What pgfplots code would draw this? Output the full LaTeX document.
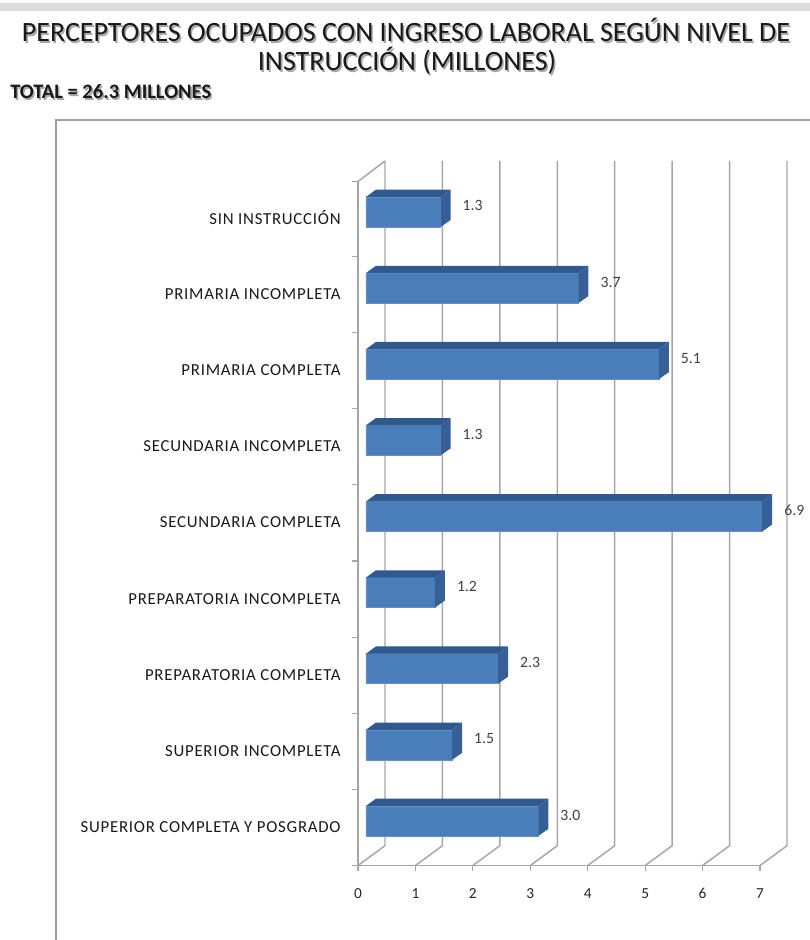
\documentclass[border=0pt]{standalone}
\usepackage{pgfplots}
\usepackage{pgfplotstable}
\usepackage{fontspec}
\setmainfont{Carlito}
\pgfplotsset{compat=1.18}

\definecolor{barfront}{HTML}{4A7EBB}
\definecolor{bartop}{HTML}{30598F}
\definecolor{barside}{HTML}{355F96}
\definecolor{wallline}{HTML}{A6A6A6}
\definecolor{valtext}{HTML}{404040}

% values, pos 0 is the lowest bar
\pgfplotstableread{
pos val
8 1.3
7 3.7
6 5.1
5 1.3
4 6.9
3 1.2
2 2.3
1 1.5
0 3.0
}\niveles

% top and side face of one bar: pos, value
\newcommand{\barfaces}[2]{%
  \pgfmathsetmacro{\xa}{#2+0.174}%
  \pgfmathsetmacro{\xb}{0.174}%
  \pgfmathsetmacro{\ya}{#1+0.197}%
  \pgfmathsetmacro{\yb}{#1+0.293}%
  \pgfmathsetmacro{\yc}{#1-0.105}%
  \pgfmathsetmacro{\yd}{#1-0.197}%
  \edef\temp{\noexpand\addplot[fill=bartop,draw=none] coordinates {(0,\ya) (#2,\ya) (\xa,\yb) (\xb,\yb)} -- cycle;
  \noexpand\addplot[fill=barside,draw=none] coordinates {(#2,\ya) (\xa,\yb) (\xa,\yc) (#2,\yd)} -- cycle;}%
  \temp}

% one wall line: front bottom, back bottom, back top
\newcommand{\wall}[1]{%
  \pgfmathsetmacro{\xa}{#1+0.47}%
  \edef\temp{\noexpand\addplot[wallline,line width=1.1pt] coordinates {(#1,-0.585) (\xa,-0.325) (\xa,8.67)};}%
  \temp}

\newcommand{\softtext}[4]{% x, y, options, text
  \node[text=black!35,#3] at (#1+1.6,#2+1.6) {#4};
  \node[text=black!90,#3] at (#1,#2) {#4};}

\begin{document}
\begin{tikzpicture}
\path[use as bounding box] (0,0) rectangle (607.5pt,705pt);
\begin{scope}[x=0.75pt,y=-0.75pt,shift={(0pt,705pt)}]
\fill[black!14] (0,3) rectangle (810,11);
\draw[black!38,line width=1.1pt] (56,940) -- (56,120) -- (810,120);
\softtext{406}{30}{font=\fontsize{21}{24}\selectfont}{PERCEPTORES OCUPADOS CON INGRESO LABORAL SEGÚN NIVEL DE}
\softtext{407}{61}{font=\fontsize{21}{24}\selectfont}{INSTRUCCIÓN (MILLONES)}
\softtext{10}{92}{anchor=west,inner sep=0pt,font=\fontsize{15.4}{18}\selectfont\bfseries}{TOTAL = 26.3 MILLONES}
\end{scope}
\begin{axis}[
    at={(268.5pt,55.875pt)},
    anchor=south west,
    scale only axis,
    width=301.5pt,
    height=513pt,
    xmin=-0.139, xmax=6.861,
    ymin=-0.585, ymax=8.4,
    clip=false,
    axis lines=left,
    axis line style={-,wallline,line width=1.1pt},
    tick align=outside,
    tick style={wallline,line width=0.8pt},
    major tick length=4.5pt,
    minor tick length=4.5pt,
    xtick={-0.139,0.861,1.861,2.861,3.861,4.861,5.861,6.861},
    xticklabels={0,1,2,3,4,5,6,7},
    xticklabel style={yshift=-9pt,font=\fontsize{11.5}{12}\selectfont,text=black!85},
    ytick={-0.08,0.92,1.92,2.92,3.92,4.92,5.92,6.92,7.92},
    yticklabels={SUPERIOR COMPLETA Y POSGRADO,SUPERIOR INCOMPLETA,PREPARATORIA COMPLETA,PREPARATORIA INCOMPLETA,SECUNDARIA COMPLETA,SECUNDARIA INCOMPLETA,PRIMARIA COMPLETA,PRIMARIA INCOMPLETA,SIN INSTRUCCIÓN},
    yticklabel style={font=\fontsize{12.6}{14}\selectfont\addfontfeature{LetterSpace=4.5},text=black!90,xshift=-5pt},
    major y tick style={draw=none},
    minor ytick={-0.585,0.415,1.415,2.415,3.415,4.415,5.415,6.415,7.415,8.4},
    /pgf/number format/assume math mode=true,
    every node near coord/.append style={font=\fontsize{11.8}{12}\selectfont,text=valtext,xshift=13pt,yshift=4.5pt},
    nodes near coords style={/pgf/number format/.cd,fixed,fixed zerofill,precision=1},
]
\wall{-0.139}
\wall{0.861}
\wall{1.861}
\wall{2.861}
\wall{3.861}
\wall{4.861}
\wall{5.861}
\wall{6.861}
\addplot[wallline,line width=1.1pt] coordinates {(0.331,8.67) (-0.139,8.4)};
\addplot[xbar,bar width=22.5pt,fill=barfront,draw=barfront!85!white,line width=0.5pt,
    nodes near coords,point meta=x] table[x=val,y=pos] {\niveles};
\barfaces{8}{1.3}
\barfaces{7}{3.7}
\barfaces{6}{5.1}
\barfaces{5}{1.3}
\barfaces{4}{6.9}
\barfaces{3}{1.2}
\barfaces{2}{2.3}
\barfaces{1}{1.5}
\barfaces{0}{3.0}
\end{axis}
\end{tikzpicture}
\end{document}
